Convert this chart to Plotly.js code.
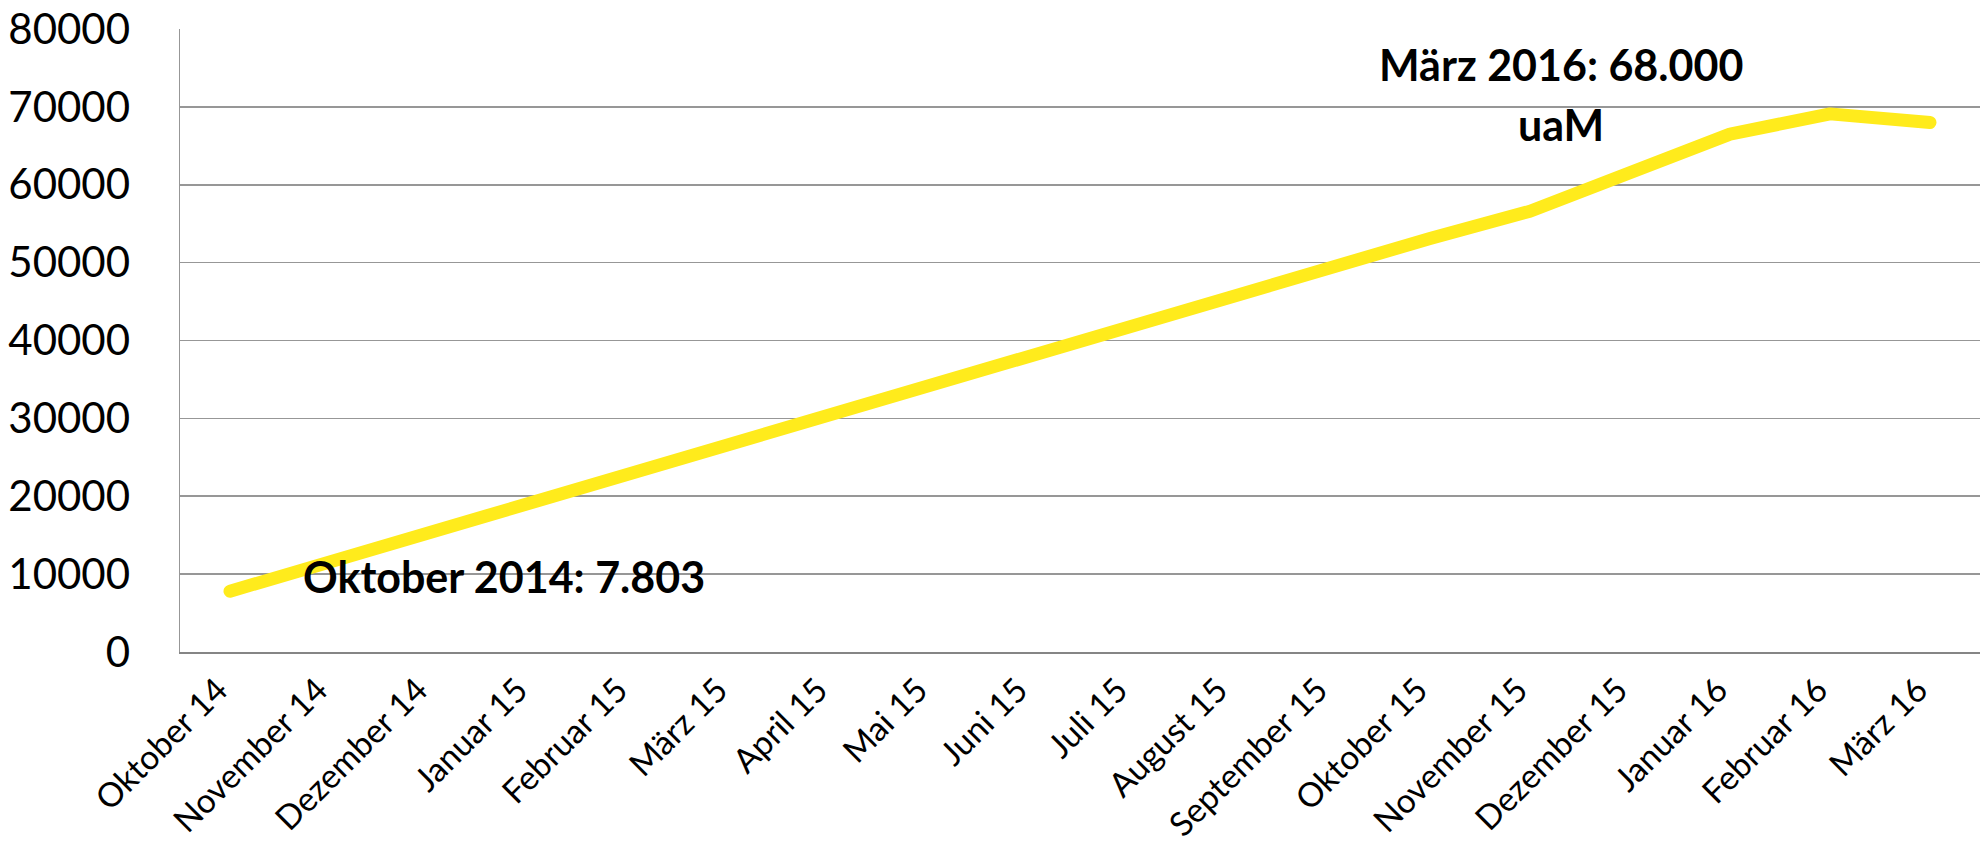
<!DOCTYPE html>
<html>
<head>
<meta charset="utf-8">
<script src="https://cdn.plot.ly/plotly-3.0.1.min.js"></script>
<style>
  html, body { margin: 0; padding: 0; background: #ffffff; }
  #chart { width: 1982px; height: 851px; }
  /* rounded ends on the series line */
  .scatterlayer path.js-line { stroke-linecap: round; stroke-linejoin: round; }
</style>
</head>
<body>
<div id="chart"></div>
<script>
// Monthly categories (Oktober 2014 – März 2016)
const months = [
  'Oktober 14', 'November 14', 'Dezember 14', 'Januar 15', 'Februar 15', 'März 15',
  'April 15', 'Mai 15', 'Juni 15', 'Juli 15', 'August 15', 'September 15',
  'Oktober 15', 'November 15', 'Dezember 15', 'Januar 16', 'Februar 16', 'März 16'
];

// Monthly values
const uamCounts = [
  7803, 11600, 15400, 19200, 23000, 26800,
  30600, 34400, 38000, 41800, 45600, 49400,
  53100, 56600, 61600, 66500, 69100, 68000
];

// Value axis ticks
const yTicks = [0, 10000, 20000, 30000, 40000, 50000, 60000, 70000, 80000];
const yTickLabels = ['0', '10000', '20000', '30000', '40000', '50000', '60000', '70000', '80000'];

// Callout texts
const startLabel = 'Oktober 2014: 7.803';
const endLabelLine1 = 'März 2016: 68.000';
const endLabelLine2 = 'uaM';

const FONT = 'Lato, "Liberation Sans", Arial, sans-serif';
const calloutFont = { family: FONT, size: 43, color: '#000000' };

const trace = {
  type: 'scatter',
  mode: 'lines',
  x: months,
  y: uamCounts,
  line: { color: '#FFEB1C', width: 13 },
  hoverinfo: 'skip',
  showlegend: false
};

const layout = {
  width: 1982,
  height: 851,
  margin: { l: 180, r: 2, t: 29, b: 199, pad: 0 },
  paper_bgcolor: '#ffffff',
  plot_bgcolor: '#ffffff',
  font: { family: FONT, color: '#000000' },
  showlegend: false,
  xaxis: {
    type: 'category',
    range: [-0.5, 17.5],
    tickangle: -45,
    tickfont: { family: FONT, size: 33.5, color: '#000000' },
    ticks: '',
    ticklabelstandoff: 3,
    ticklabelshift: -12,
    showgrid: false,
    showline: true,
    linecolor: '#858585',
    linewidth: 2,
    zeroline: false,
    fixedrange: true
  },
  yaxis: {
    range: [0, 80000],
    tickvals: yTicks,
    ticktext: yTickLabels,
    tickfont: { family: FONT, size: 42, color: '#000000' },
    ticks: '',
    ticklabelstandoff: 40,
    showgrid: true,
    gridcolor: '#979797',
    gridwidth: 1.6,
    showline: true,
    linecolor: '#979797',
    linewidth: 1.5,
    zeroline: false,
    fixedrange: true
  },
  annotations: [
    {
      xref: 'x', yref: 'y',
      x: 0.71, y: 9750,
      xanchor: 'left', yanchor: 'middle',
      text: '<b>' + startLabel + '</b>',
      showarrow: false,
      font: calloutFont
    },
    {
      xref: 'x', yref: 'y',
      x: 13.31, y: 75500,
      xanchor: 'center', yanchor: 'middle',
      text: '<b>' + endLabelLine1 + '</b>',
      showarrow: false,
      font: calloutFont
    },
    {
      xref: 'x', yref: 'y',
      x: 13.31, y: 67700,
      xanchor: 'center', yanchor: 'middle',
      text: '<b>' + endLabelLine2 + '</b>',
      showarrow: false,
      font: calloutFont
    }
  ]
};

Plotly.newPlot('chart', [trace], layout, { displayModeBar: false, staticPlot: true });
</script>
</body>
</html>
